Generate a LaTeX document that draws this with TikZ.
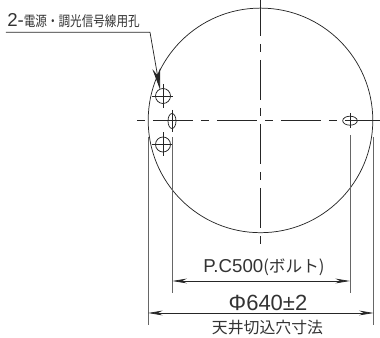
\documentclass[tikz,border=0pt]{standalone}
\usepackage{fontspec}
\setmainfont{Liberation Sans}
\newfontfamily\cjk{Noto Sans CJK JP}
\newfontfamily\cjknarrow[FakeStretch=0.82]{Noto Sans CJK JP}
\usetikzlibrary{arrows.meta}
\tikzset{
    thinline/.style={line width=0.55pt, black!85},
    centerline/.style={thinline, dash pattern=on 30pt off 6pt on 6pt off 6pt},
    dimline/.style={thinline, {Stealth[length=11pt,width=3.6pt]}-{Stealth[length=11pt,width=3.6pt]}},
    extline/.style={line width=0.7pt, black!60},
    leaderline/.style={thinline, -{Stealth[length=16pt,width=6pt]}},
    label/.style={inner sep=0pt, text=black!80}
}
\begin{document}
\begin{tikzpicture}[x=0.75pt, y=-0.75pt]
    \useasboundingbox (0,0) rectangle (380,338);
    % Define hole radius
    \def\r{7.5}
    \def\R{112.3}
    % Outer circle
    \coordinate (center) at (260.5,120.4);
    \draw[thinline] (center) circle(\R);

    % Center lines
    \draw[centerline, dash phase=36pt] (137,120.7) -- (380,120.7);
    \draw[centerline, dash phase=3pt] (260.5,0) -- (260.5,245);

    % Holes
    \foreach \y in {96,144.5} {
        \draw[thinline] (163,\y) circle(\r);
        \draw[thinline] (152,\y) -- (173,\y);
        \draw[thinline] (163,\y-12) -- (163,\y+12);
    }
    \draw[thinline] (172,121) ellipse(4 and 7.5);
    \draw[thinline] (172,110) -- (172,132);
    \draw[thinline] (350,120.7) ellipse(7.3 and 4.5);
    \draw[thinline] (350,113) -- (350,128);

    % Extension lines
    \draw[extline] (148,137) -- (148,325);
    \draw[extline] (172.3,137) -- (172.3,293);
    \draw[extline] (350,135) -- (350,293);
    \draw[extline] (373.7,137) -- (373.7,325);

    % Dimensions
    \coordinate (pcl) at (172.3,281);
    \coordinate (pcr) at (350,281);
    \coordinate (cutl) at (148,313);
    \coordinate (cutr) at (373.7,313);
    \draw[dimline] (pcl) -- (pcr);
    \draw[dimline] (cutl) -- (cutr);

    % Leader
    \coordinate (lstart) at (6,32.3);
    \coordinate (lbend) at (150,32.3);
    \coordinate (ltip) at (160,89.5);
    \draw[leaderline] (lstart) -- (lbend) -- (ltip);

    % Labels
    \node[label, anchor=west, font=\fontsize{14pt}{14pt}\selectfont] (holes) at (7,20.5) {2-{\cjknarrow\fontsize{10.6pt}{11pt}\selectfont 電源・調光信号線用孔}};
    \node[label, font=\fontsize{14pt}{14pt}\selectfont] (pitch) at (264,267) {P.C500{\cjk\fontsize{12.5pt}{12pt}\selectfont (ボルト)}};
    \node[label, font=\fontsize{16.5pt}{16pt}\selectfont] (diam) at (268,303) {Φ640±2};
    \node[label, font=\cjk\fontsize{11.9pt}{12pt}\selectfont] (cutout) at (267.5,328) {天井切込穴寸法};
\end{tikzpicture}
\end{document}
